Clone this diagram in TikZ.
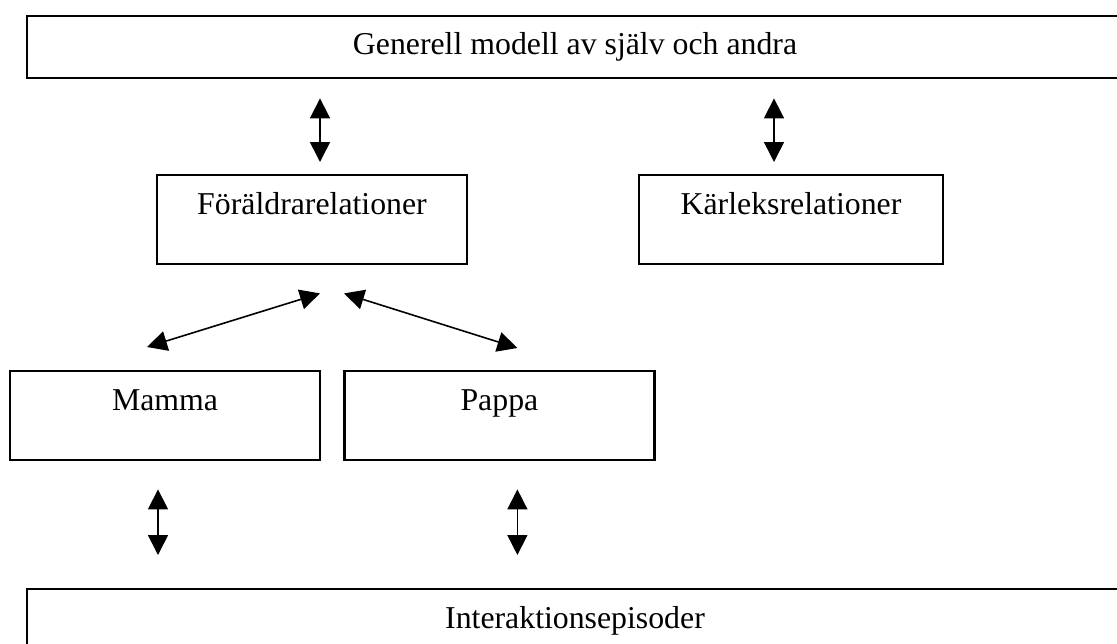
\documentclass[tikz,border=0pt]{standalone}
\usepackage{fontspec}
\setmainfont{Liberation Serif}
\usetikzlibrary{arrows.meta, positioning}
\tikzset{
    box/.style={draw, line width=1.2pt, inner sep=0pt, align=center,
        minimum width=155pt, minimum height=44.5pt,
        text height=19.5pt, text depth=25pt,
        font=\fontsize{15.9pt}{18pt}\selectfont},
    widebox/.style={box, minimum width=548pt},
    biarrow/.style={line width=0.8pt,
        {Triangle[width=10pt,length=10pt]}-{Triangle[width=10pt,length=10pt]}},
}
\begin{document}
\begin{tikzpicture}[x=0.5pt, y=-0.5pt]
    \useasboundingbox (0,0) rectangle (1117,643);
    \clip (0,0) rectangle (1117,643);

    \node[widebox, anchor=north, minimum height=31pt, text height=19pt, text depth=12pt] (gen) at (575,15) {Generell modell av själv och andra};

    \node[box, anchor=north] (foraldra) at (312,174) {Föräldrarelationer};
    \node[box, anchor=north, minimum width=152pt] (karlek) at (791,174) {Kärleksrelationer};

    \node[box, anchor=north] (mamma) at (165,370) {Mamma};
    \node[box, right=11pt of mamma] (pappa) {Pappa};

    \node[widebox, anchor=north, minimum height=40pt, text depth=20.5pt] (inter) at (575,588) {Interaktionsepisoder};

    \draw[biarrow] ([xshift=4pt,yshift=-9.5pt]foraldra.north |- gen.south) -- ([xshift=4pt,yshift=6pt]foraldra.north);
    \draw[biarrow] ([xshift=-8.5pt,yshift=-9.5pt]karlek.north |- gen.south) -- ([xshift=-8.5pt,yshift=6pt]karlek.north);

    \draw[biarrow] ([xshift=4pt,yshift=-14pt]foraldra.south) -- ([xshift=-9pt,yshift=11.5pt]mamma.north);
    \draw[biarrow] ([xshift=16pt,yshift=-14pt]foraldra.south) -- ([xshift=9pt,yshift=11pt]pappa.north);

    \draw[biarrow] ([xshift=-3.5pt,yshift=-14pt]mamma.south) -- ([xshift=-3.5pt,yshift=16.5pt]mamma.south |- inter.north);
    \draw[biarrow] ([xshift=9pt,yshift=-14pt]pappa.south) -- ([xshift=9pt,yshift=16.5pt]pappa.south |- inter.north);
\end{tikzpicture}
\end{document}
